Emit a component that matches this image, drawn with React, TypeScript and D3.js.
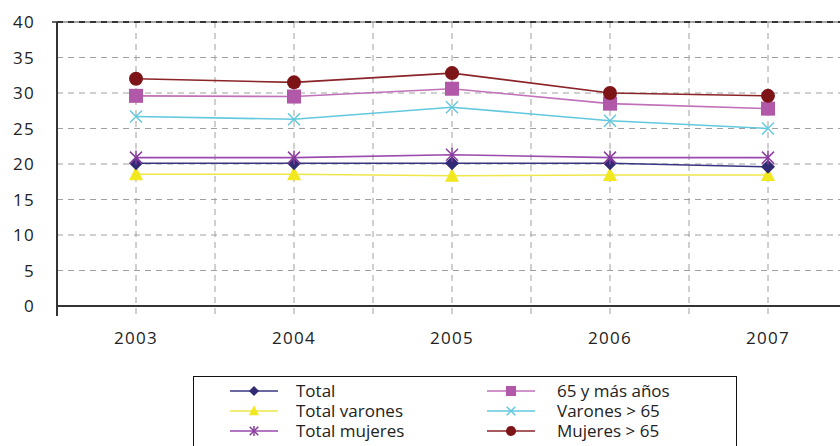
import React from "react";
import * as d3 from "d3";

const years = ["2003", "2004", "2005", "2006", "2007"];
const yTicks = [0, 5, 10, 15, 20, 25, 30, 35, 40];

const total = [20.1, 20.1, 20.1, 20.1, 19.6];
const totalVarones = [18.55, 18.55, 18.35, 18.45, 18.45];
const totalMujeres = [20.9, 20.9, 21.3, 20.9, 20.9];
const mas65 = [29.6, 29.5, 30.6, 28.5, 27.8];
const varones65 = [26.7, 26.3, 28.0, 26.1, 25.0];
const mujeres65 = [32.0, 31.5, 32.8, 30.0, 29.6];

type Shape = "diamond" | "triangle" | "asterisk" | "square" | "cross" | "circle";
const seriesList: { name: string; values: number[]; color: string; lineColor: string; shape: Shape }[] = [
  { name: "Total", values: total, color: "#2f2a72", lineColor: "#3a3580", shape: "diamond" },
  { name: "Total varones", values: totalVarones, color: "#f2e820", lineColor: "#efe64a", shape: "triangle" },
  { name: "Total mujeres", values: totalMujeres, color: "#8a3c9e", lineColor: "#9a4aac", shape: "asterisk" },
  { name: "65 y más años", values: mas65, color: "#b158a8", lineColor: "#c070b8", shape: "square" },
  { name: "Varones > 65", values: varones65, color: "#62c8de", lineColor: "#62c8de", shape: "cross" },
  { name: "Mujeres > 65", values: mujeres65, color: "#7c1418", lineColor: "#8a2428", shape: "circle" },
];

function Marker({ shape, x, y, color, s = 1 }: { shape: Shape; x: number; y: number; color: string; s?: number }) {
  switch (shape) {
    case "diamond":
      return <path d={`M${x},${y - 7 * s}L${x + 7 * s},${y}L${x},${y + 7 * s}L${x - 7 * s},${y}Z`} fill={color} />;
    case "triangle":
      return <path d={`M${x},${y - 8 * s}L${x + 7 * s},${y + 6 * s}L${x - 7 * s},${y + 6 * s}Z`} fill={color} />;
    case "square":
      return <rect x={x - 7 * s} y={y - 7 * s} width={14 * s} height={14 * s} fill={color} />;
    case "circle":
      return <circle cx={x} cy={y} r={7 * s} fill={color} />;
    case "cross":
      return (
        <g stroke={color} strokeWidth={1.5}>
          <line x1={x - 6 * s} y1={y - 6 * s} x2={x + 6 * s} y2={y + 6 * s} />
          <line x1={x - 6 * s} y1={y + 6 * s} x2={x + 6 * s} y2={y - 6 * s} />
        </g>
      );
    case "asterisk":
      return (
        <g stroke={color} strokeWidth={1.5}>
          <line x1={x - 6 * s} y1={y - 6 * s} x2={x + 6 * s} y2={y + 6 * s} />
          <line x1={x - 6 * s} y1={y + 6 * s} x2={x + 6 * s} y2={y - 6 * s} />
          <line x1={x} y1={y - 7 * s} x2={x} y2={y + 7 * s} />
        </g>
      );
  }
}

export default function App() {
  const W = 840, H = 446;
  const left = 57, top = 22, bottom = 306;
  const x = d3.scaleBand<string>().domain(years).range([left, left + 158 * years.length]);
  const y = d3.scaleLinear().domain([0, 40]).range([bottom, top]);
  const cx = (yr: string) => (x(yr) as number) + x.bandwidth() / 2;
  const line = d3.line<number>().x((_, i) => cx(years[i])).y((v) => y(v));
  const font = "'Open Sans', sans-serif";

  const vLines: number[] = [];
  years.forEach((yr) => {
    vLines.push(cx(yr));
    vLines.push((x(yr) as number) + x.bandwidth());
  });

  const drawOrder = [1, 0, 2, 4, 3, 5];

  return (
    <svg width={W} height={H} style={{ position: "absolute", left: 0, top: 0, background: "#fff" }}>
      {/* grid */}
      <g stroke="#a0a0a0" strokeWidth={1} strokeDasharray="6,5">
        {yTicks.filter((t) => t > 0 && t < 40).map((t) => (
          <line key={t} x1={left} x2={W} y1={y(t)} y2={y(t)} />
        ))}
        {vLines.map((vx, i) => (
          <line key={i} x1={vx} x2={vx} y1={top} y2={bottom + 10} />
        ))}
      </g>
      {/* top border */}
      <line x1={left} x2={W} y1={top} y2={top} stroke="#888" strokeWidth={1.5} />
      <line x1={left} x2={W} y1={top} y2={top} stroke="#111" strokeWidth={1.5} strokeDasharray="6,5" />
      {/* axes */}
      <line x1={left} x2={left} y1={top} y2={bottom + 10} stroke="#333" strokeWidth={2} />
      <line x1={left} x2={W} y1={bottom} y2={bottom} stroke="#333" strokeWidth={2} />
      <line x1={left - 5} x2={left} y1={top} y2={top} stroke="#333" strokeWidth={1.5} />
      {/* y tick labels */}
      {yTicks.map((t) => (
        <text key={t} x={35} y={y(t) + 6} textAnchor="end" fontFamily={font} fontSize={17} letterSpacing={1.3} fill="#222">
          {t}
        </text>
      ))}
      {/* x labels */}
      {years.map((yr) => (
        <text key={yr} x={cx(yr)} y={344} textAnchor="middle" fontFamily={font} fontSize={17} letterSpacing={1.3} fill="#222">
          {yr}
        </text>
      ))}
      {/* lines */}
      {drawOrder.map((i) => {
        const s = seriesList[i];
        return <path key={s.name} d={line(s.values) || ""} fill="none" stroke={s.lineColor} strokeWidth={1.6} />;
      })}
      {drawOrder.map((i) => {
        const s = seriesList[i];
        return (
          <g key={s.name + "m"}>
            {s.values.map((v, j) => (
              <Marker key={j} shape={s.shape} x={cx(years[j])} y={y(v)} color={s.color} />
            ))}
          </g>
        );
      })}
      {/* legend */}
      <rect x={193.5} y={376.5} width={543} height={80} fill="#fff" stroke="#111" strokeWidth={1} />
      {seriesList.map((s, i) => {
        const col = Math.floor(i / 3);
        const row = i % 3;
        const lx = col === 0 ? 230 : 487;
        const ly = 391 + row * 20;
        const tx = col === 0 ? 296 : 557;
        return (
          <g key={s.name + "l"}>
            <line x1={lx} x2={lx + 48} y1={ly} y2={ly} stroke={s.lineColor} strokeWidth={1.6} />
            <Marker shape={s.shape} x={lx + 24} y={ly} color={s.color} s={0.72} />
            <text x={tx} y={ly + 6} fontFamily={font} fontSize={17} fill="#222">
              {s.name}
            </text>
          </g>
        );
      })}
    </svg>
  );
}
